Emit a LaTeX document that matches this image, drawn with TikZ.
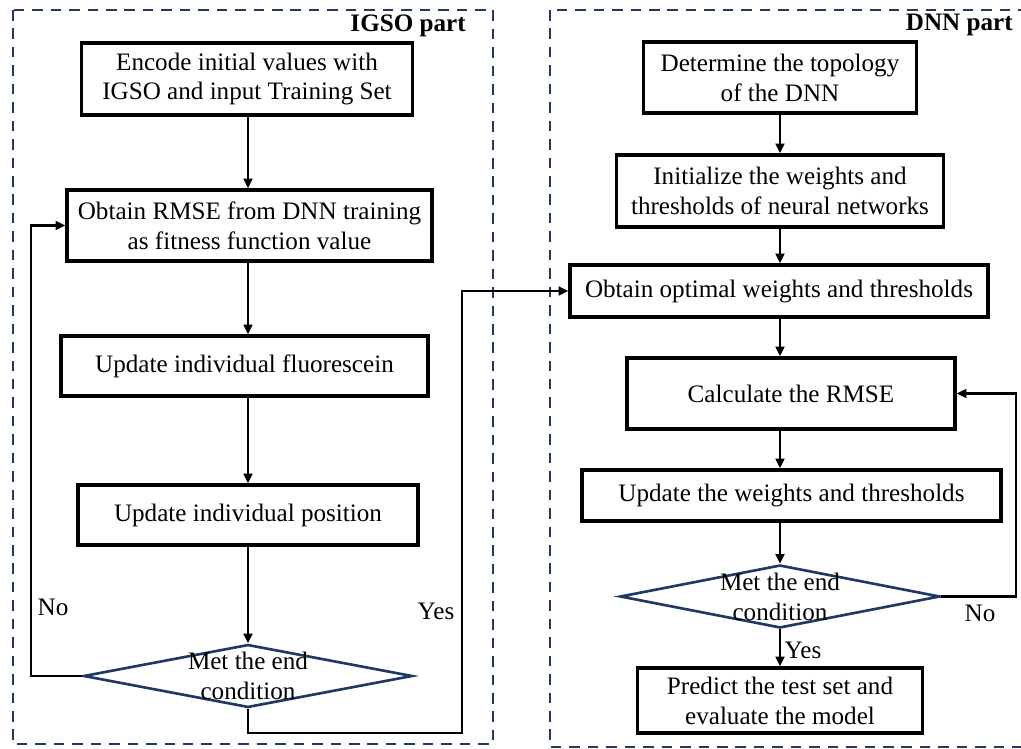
\documentclass[tikz,border=0pt]{standalone}
\usepackage{fontspec}
\setmainfont{Liberation Serif}
\usepackage{tikz}
\usetikzlibrary{shapes.geometric, arrows.meta, positioning}
\definecolor{partnavy}{RGB}{31, 56, 100}

\begin{document}
\begin{tikzpicture}[x=0.02cm, y=-0.02cm,
    stepbox/.style={rectangle, draw=black, line width=2pt, align=center,
      font=\fontsize{14.3}{17}\selectfont, inner sep=0pt},
    decision/.style={diamond, draw=partnavy, line width=1.5pt, inner sep=0pt,
      font=\fontsize{14.3}{17}\selectfont},
    flow/.style={line width=1.5pt, -{Triangle[length=5.5pt,width=5pt]}},
    partbox/.style={draw=partnavy, line width=1.6pt, dash pattern=on 6pt off 4.5pt},
    tag/.style={font=\fontsize{14.3}{17}\selectfont, inner sep=0pt}]
  \clip (0,0) rectangle (1021,749);

  % dashed frames of the two parts
  \draw[partbox] (13,10) rectangle (493,744);
  \draw[partbox] (550,10) rectangle (1030,747);
  \node[tag, font=\fontsize{14.3}{17}\selectfont\bfseries, anchor=east] (igsoTitle) at (466,26) {IGSO part};
  \node[tag, font=\fontsize{14.3}{17}\selectfont\bfseries, anchor=east] (dnnTitle) at (1013,25) {DNN part};

  % IGSO part
  \node[stepbox, minimum width=6.62cm, minimum height=1.44cm] (encode) at (247,79)
    {Encode initial values with\\IGSO and input Training Set};
  \node[stepbox, minimum width=7.3cm, minimum height=1.42cm] (fitness) at (249.5,225.5)
    {Obtain RMSE from DNN training\\as fitness function value};
  \node[stepbox, minimum width=7.34cm, minimum height=1.2cm] (fluor) at (244.5,366)
    {Update individual fluorescein};
  \node[stepbox, minimum width=6.8cm, minimum height=1.2cm] (position) at (248,515)
    {Update individual position};
  \node[decision, minimum width=6.58cm, minimum height=1.26cm,
    label={[align=center, font=\fontsize{14.3}{17}\selectfont]center:Met the end\\condition}] (metIgso) at (248,676) {};

  % DNN part
  \node[stepbox, minimum width=5.46cm, minimum height=1.42cm] (topology) at (780,77.5)
    {Determine the topology\\of the DNN};
  \node[stepbox, minimum width=6.54cm, minimum height=1.44cm] (initw) at (780,191)
    {Initialize the weights and\\thresholds of neural networks};
  \node[stepbox, minimum width=8.36cm, minimum height=1.04cm] (optimal) at (779,291)
    {Obtain optimal weights and thresholds};
  \node[stepbox, minimum width=6.56cm, minimum height=1.42cm] (rmse) at (791,393.5)
    {Calculate the RMSE};
  \node[stepbox, minimum width=8.38cm, minimum height=1.02cm] (updw) at (791.5,495.5)
    {Update the weights and thresholds};
  \node[decision, minimum width=6.4cm, minimum height=1.26cm,
    label={[align=center, font=\fontsize{14.3}{17}\selectfont]center:Met the end\\condition}] (metDnn) at (780,596.5) {};
  \node[stepbox, minimum width=5.7cm, minimum height=1.3cm] (predict) at (780,700.5)
    {Predict the test set and\\evaluate the model};

  % helper points for the loops
  \coordinate (loopIgso) at (31,676);
  \coordinate (jumpIgso) at (462,733);
  \coordinate (loopDnn) at (1016,596.5);
  \coordinate (colDnn) at (780,0);

  % IGSO connectors
  \draw[flow] (encode.south -| metIgso) -- (fitness.north -| metIgso);
  \draw[flow] (fitness.south -| metIgso) -- (fluor.north -| metIgso);
  \draw[flow] (fluor.south -| metIgso) -- (position.north -| metIgso);
  \draw[flow] (position.south -| metIgso) -- (metIgso.north);
  \draw[flow] (metIgso.west) -- (loopIgso) |- (fitness.west);
  \draw[flow] (metIgso.south) |- (jumpIgso) |- (optimal.west);

  % DNN connectors
  \draw[flow] (topology.south) -- (initw.north);
  \draw[flow] (initw.south) -- (optimal.north -| colDnn);
  \draw[flow] (optimal.south -| colDnn) -- (rmse.north -| colDnn);
  \draw[flow] (rmse.south -| colDnn) -- (updw.north -| colDnn);
  \draw[flow] (updw.south -| colDnn) -- (metDnn.north);
  \draw[flow] (metDnn.east) -- (loopDnn) |- (rmse.east);
  \draw[flow] (metDnn.south) -- (predict.north);

  % branch labels
  \node[tag] (noIgso) at (53,607) {No};
  \node[tag] (yesIgso) at (436,611) {Yes};
  \node[tag] (noDnn) at (980,613) {No};
  \node[tag] (yesDnn) at (803,650) {Yes};
\end{tikzpicture}
\end{document}
